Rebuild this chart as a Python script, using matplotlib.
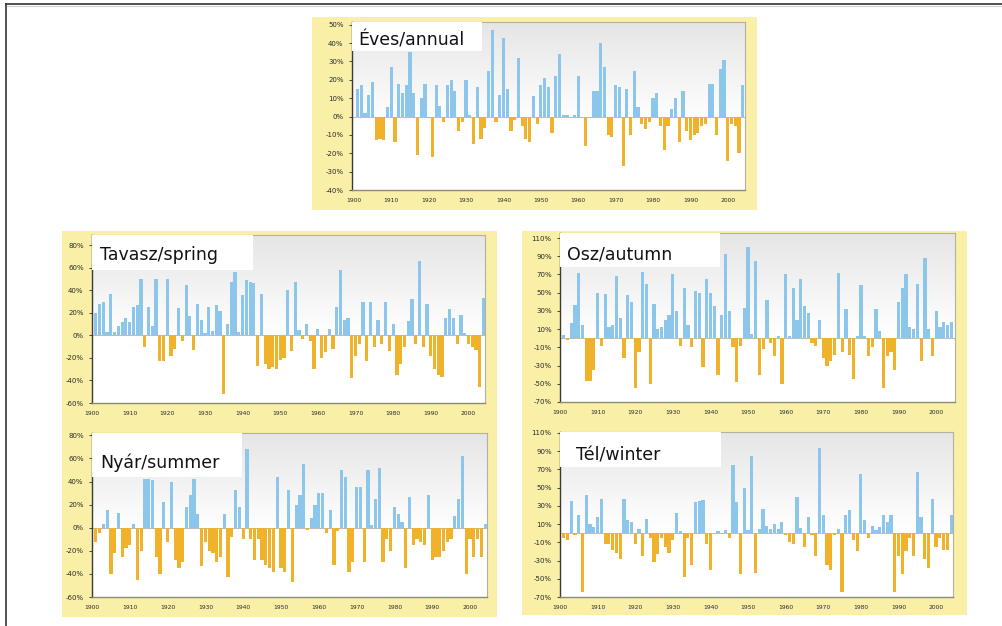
import numpy as np
import matplotlib
matplotlib.use('Agg')
import matplotlib.pyplot as plt
from matplotlib.patches import Rectangle
from matplotlib.lines import Line2D

# precipitation anomalies (% of mean), 1901-2004
years = list(range(1901, 2005))

annual = [15, 17, 2, 12, 19, -13, -12, -13, 5, 27,
          -14, 18, 13, 17, 35, 13, -21, 10, 18, -1,
          -22, 17, 6, -3, 17, 20, 14, -8, -3, 20,
          1, -15, 16, -12, -6, 25, 47, -3, 12, 43,
          15, -8, -2, 32, -5, -12, -14, 11, -4, 17,
          21, 16, -9, 22, 34, 1, 1, 0, 1, 22,
          0, -16, 0, 14, 14, 40, 27, -10, -11, 17,
          16, -27, 15, -10, 25, 5, -4, -7, -3, 10,
          13, -5, -18, -5, 4, 10, -14, 14, -8, -13,
          -10, -9, -5, -4, 18, 18, -10, 26, 31, -24,
          -4, -5, -20, 17]

spring = [20, 28, 30, 3, 37, 3, 8, 12, 15, 12,
          25, 27, 50, -10, 25, 8, 50, -23, -23, 50,
          -18, -12, 24, -5, 45, 17, -13, 28, 14, 2,
          25, 4, 27, 22, -52, 10, 47, 56, 3, 36,
          49, 47, 46, -27, 37, -25, -30, -28, -30, -22,
          -20, 40, -14, 47, 5, -3, 10, -5, -30, 6,
          -20, -15, 6, -12, 25, 58, 14, 15, -38, -18,
          -8, 30, -23, 30, -10, 14, -8, 30, -14, 10,
          -35, -25, -10, 13, 32, -8, 66, -10, 28, -18,
          -30, -35, -37, 15, 23, 15, -8, 18, 2, -8,
          -10, -13, -46, 33]

summer = [-12, -5, 3, 15, -40, -22, 13, -25, -18, -15,
          3, -45, -20, 42, 42, 41, -25, -40, 22, -12,
          40, -28, -35, -30, 18, 28, 42, 12, -33, -12,
          -20, -22, -30, -25, 12, -43, -8, 33, 18, -10,
          68, -10, -28, -10, -28, -32, -35, -38, 44, -35,
          -38, 33, -47, 20, 28, 55, -2, 8, 20, 30,
          30, -5, 15, -32, -3, 50, 44, -38, -30, 35,
          35, -30, 50, 2, 25, 52, -30, -10, -20, 18,
          12, 5, -35, 27, -15, -10, -12, -15, 28, -28,
          -25, -25, -20, -12, -10, 10, 25, 62, -40, -10,
          -25, -10, -25, 3]

autumn = [3, -2, 17, 37, 72, 15, -47, -47, -35, 50,
          -8, 48, 12, 14, 68, 22, -22, 47, 40, -55,
          -15, 73, 60, -50, 38, 10, 12, 20, 25, 70,
          30, -8, 55, 15, -10, 52, 50, -32, 65, 50,
          35, -40, 25, 92, 30, -10, -48, -8, 33, 100,
          5, 85, -40, -12, 42, -5, -20, 2, -50, 70,
          2, 55, 20, 65, 35, 28, -5, -8, 20, -22,
          -30, -25, -18, 72, -15, 32, -18, -45, 2, 58,
          2, -20, -10, 32, 8, -55, -20, -15, -35, 40,
          55, 70, 12, 10, 60, -25, 88, 10, -20, 30,
          12, 18, 15, 18]

winter = [-5, -8, 35, -2, 20, -65, 42, 10, 7, 18,
          38, -12, -12, -18, -22, -28, 38, 15, 12, -12,
          5, -25, 16, -5, -32, -23, -5, -15, -22, -8,
          22, 2, -48, -5, -35, 34, 35, 36, -12, -40,
          0, 2, 0, 3, -5, 75, 34, -45, 50, 3,
          85, -44, 5, 27, 8, 5, 10, 5, 12, -2,
          -10, -12, 40, 6, -15, 18, -2, -25, 93, 20,
          -35, -40, -2, 5, -65, 20, 25, -8, -20, 65,
          15, -5, 8, 3, 7, 20, 12, 20, -65, -25,
          -45, -20, -5, -25, 67, 18, -28, -38, 38, -15,
          -5, -18, -18, 20]

x_ticks = list(range(1900, 2001, 10))

W, H = 1003, 626
YELLOW = '#f9efa6'
BLUE = '#8cc6ea'
ORANGE = '#f0b22a'

fig = plt.figure(figsize=(W / 100, H / 100), dpi=100)


def fig_rect(x0, y0, x1, y1):
    # pixel box (top-left origin) -> figure fraction [l, b, w, h]
    return [x0 / W, 1 - y1 / H, (x1 - x0) / W, (y1 - y0) / H]


# outer page frame
fig.add_artist(Line2D([6 / W, 6 / W], [0, 1 - 4 / H], color='#333333', lw=1.2))
fig.add_artist(Line2D([6 / W, 1], [1 - 4 / H, 1 - 4 / H], color='#333333', lw=1.2))
fig.add_artist(Line2D([7 / W, 1], [1 - 5.5 / H, 1 - 5.5 / H], color='#d0d0d0', lw=0.8))

# yellow backing panels
for box in [(312, 17, 757, 210), (62, 231, 497, 617), (522, 231, 967, 615)]:
    l, b, w, h = fig_rect(*box)
    fig.add_artist(Rectangle((l, b), w, h, transform=fig.transFigure,
                             facecolor=YELLOW, edgecolor='none', zorder=-5))

# gradient for plot area: light grey at top fading to white
grad = np.ones((100, 1, 3))
t = np.linspace(0, 1, 100)
shade = np.clip(0.90 + 0.10 * t / 0.6, 0, 1)
grad[:, 0, :] = shade[:, None]

panels = [
    # title, values, pixel box, ylim, yticks, xlim, title box (x1, ybottom), text pos
    ('Éves/annual', annual, (352, 22, 745, 190), (-40, 51.5), range(-40, 51, 10),
     (1899.5, 2004.6), (0.33, 0.83), (0.015, 0.89)),
    ('Tavasz/spring', spring, (92, 235, 485, 403), (-60, 89), range(-60, 81, 20),
     (1900.2, 2004.4), (0.41, 0.79), (0.02, 0.88)),
    ('Osz/autumn', autumn, (560, 233, 955, 402), (-70, 115.5), range(-70, 111, 20),
     (1900.5, 2005.0), (0.405, 0.80), (0.018, 0.87)),
    ('Nyár/summer', summer, (92, 433, 487, 597), (-60, 82), range(-60, 81, 20),
     (1900.6, 2004.5), (0.38, 0.73), (0.02, 0.82)),
    ('Tél/winter', winter, (560, 432, 953, 597), (-70, 111), range(-70, 111, 20),
     (1900.5, 2004.5), (0.41, 0.79), (0.04, 0.86)),
]

for title, vals, box, ylim, yticks, xlim, tbox, tpos in panels:
    ax = fig.add_axes(fig_rect(*box))
    ax.set_facecolor('none')
    ax.imshow(grad, extent=[0, 1, 0, 1], transform=ax.transAxes,
              aspect='auto', zorder=0, interpolation='bilinear')

    v = np.array(vals)
    colors = [BLUE if x >= 0 else ORANGE for x in v]
    ax.axhline(0, color='#a0a0a0', lw=0.5, zorder=1)
    ax.bar(years, v, width=0.85, color=colors, linewidth=0, zorder=2)

    ax.set_xlim(*xlim)
    ax.set_ylim(*ylim)
    ax.set_yticks(list(yticks))
    ax.set_yticklabels([f'{y}%' for y in yticks])
    ax.set_xticks(x_ticks)
    ax.set_xticklabels([str(x) for x in x_ticks])
    ax.tick_params(axis='y', labelsize=5, length=2.5, width=0.6, pad=3.5,
                   colors='#2a2a2a')
    ax.tick_params(axis='x', labelsize=4.3, length=0, pad=6, colors='#2a2a2a')

    for side in ['top', 'right']:
        ax.spines[side].set_color('#b2b0a0')
        ax.spines[side].set_linewidth(0.8)
    ax.spines['bottom'].set_color('#8c8a78')
    ax.spines['bottom'].set_linewidth(1.0)
    ax.spines['left'].set_color('#3a3a3a')
    ax.spines['left'].set_linewidth(1.0)

    # white title box in the upper-left corner
    ax.add_patch(Rectangle((0, tbox[1]), tbox[0], 1 - tbox[1], transform=ax.transAxes,
                           facecolor='white', edgecolor='none', zorder=3))
    ax.text(tpos[0], tpos[1], title, transform=ax.transAxes, fontsize=12.5,
            family='DejaVu Sans', color='#111118', va='center', ha='left', zorder=4)

fig.savefig('out.png', dpi=100)
